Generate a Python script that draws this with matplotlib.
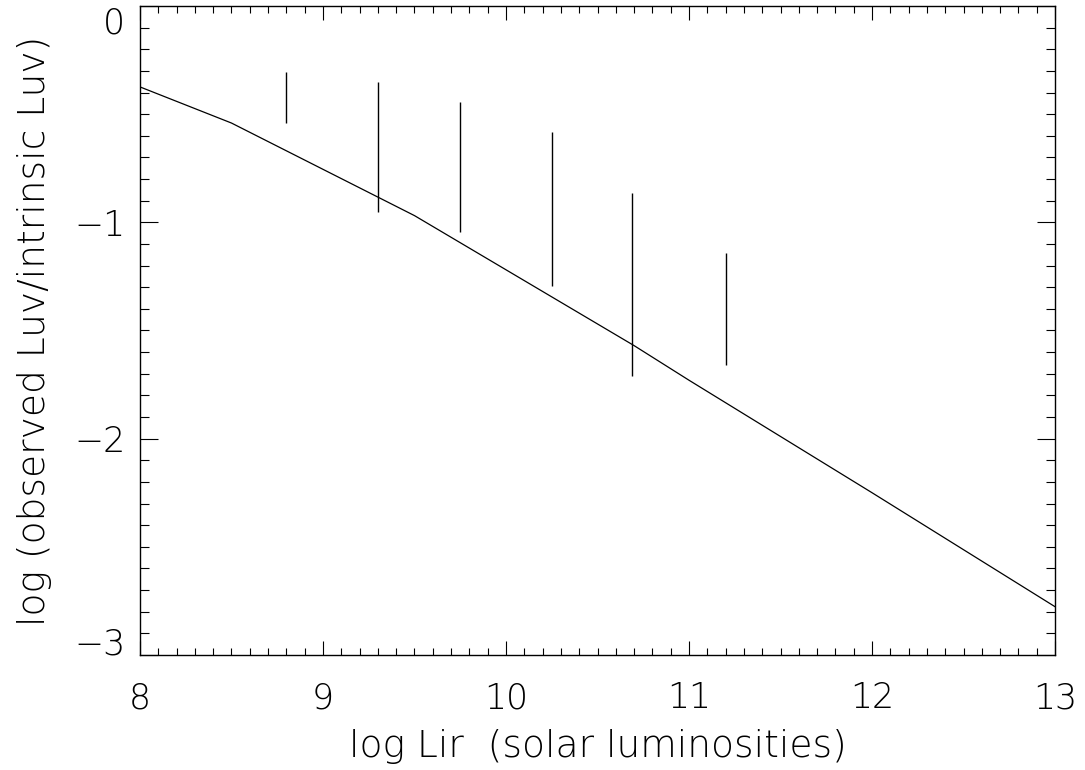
import matplotlib
matplotlib.use("Agg")
import matplotlib.pyplot as plt
from matplotlib.ticker import MultipleLocator

# model curve: log attenuation vs log Lir
curve_x = [8.0, 8.5, 9.5, 10.7, 11.0, 12.0, 13.0]
curve_y = [-0.374, -0.541, -0.969, -1.57, -1.73, -2.25, -2.777]

# observed ranges (vertical bars)
bar_x = [8.8, 9.3, 9.75, 10.25, 10.69, 11.2]
bar_top = [-0.304, -0.353, -0.442, -0.583, -0.863, -1.141]
bar_bottom = [-0.542, -0.954, -1.043, -1.293, -1.712, -1.661]

plt.rcParams['font.family'] = ['DejaVu Sans']
plt.rcParams['font.weight'] = 'light'
plt.rcParams['axes.labelweight'] = 'light'

fig = plt.figure(figsize=(10.85, 7.7), dpi=100)
ax = fig.add_axes([0.129, 0.1494, 0.8434, 0.8428])

ax.plot(curve_x, curve_y, color='black', lw=0.9)
ax.vlines(bar_x, bar_bottom, bar_top, color='black', lw=1.0)

ax.set_xlim(8, 13)
ax.set_ylim(-3, 0)
ax.xaxis.set_major_locator(MultipleLocator(1))
ax.xaxis.set_minor_locator(MultipleLocator(0.1))
ax.yaxis.set_major_locator(MultipleLocator(1))
ax.yaxis.set_minor_locator(MultipleLocator(0.1))

ax.tick_params(which='both', direction='in', top=True, right=True, width=0.8)
ax.tick_params(axis='x', which='major', length=10, pad=19, labelsize=25)
ax.tick_params(axis='x', which='minor', length=5)
ax.tick_params(axis='y', which='major', length=13, pad=10.5, labelsize=25)
ax.tick_params(axis='y', which='minor', length=6.5)
for s in ax.spines.values():
    s.set_linewidth(1.0)

ax.set_xlabel('log Lir  (solar luminosities)', fontsize=27)
ax.set_ylabel('log (observed Luv/intrinsic Luv)', fontsize=27)
ax.xaxis.set_label_coords(0.5, -0.114)
ax.yaxis.set_label_coords(-0.096, 0.5)

# end labels sit inside the axis range, like the original plot
fig.canvas.draw()
for tick in ax.yaxis.get_major_ticks():
    if abs(tick.get_loc()) < 1e-9:
        tick.label1.set_va('top')
    elif abs(tick.get_loc() + 3) < 1e-9:
        tick.label1.set_va('baseline')

fig.savefig('out.png', dpi=100)
